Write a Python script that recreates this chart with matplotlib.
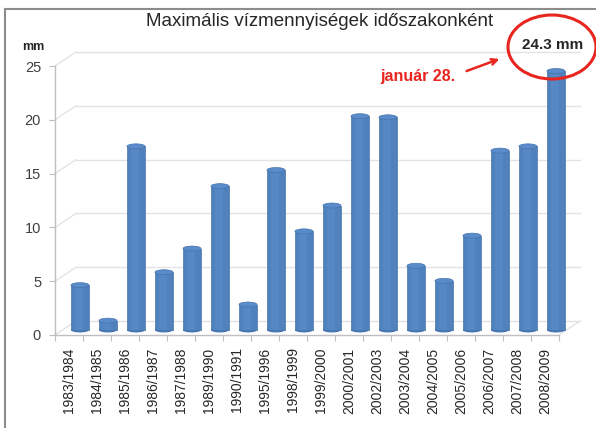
import matplotlib
matplotlib.use("Agg")
import matplotlib.pyplot as plt
from matplotlib.patches import Ellipse
from matplotlib.lines import Line2D

seasons = [
    "1983/1984", "1984/1985", "1985/1986", "1986/1987", "1987/1988",
    "1989/1990", "1990/1991", "1995/1996", "1998/1999", "1999/2000",
    "2000/2001", "2002/2003", "2003/2004", "2004/2005", "2005/2006",
    "2006/2007", "2007/2008", "2008/2009",
]
max_mm = [4.4, 1.1, 17.3, 5.6, 7.8, 13.6, 2.6, 15.1, 9.4, 11.8,
          20.1, 20.0, 6.2, 4.8, 9.0, 16.9, 17.3, 24.3]
y_ticks = [0, 5, 10, 15, 20, 25]

W, H = 596, 428
plt.rcParams["font.family"] = ["Liberation Sans", "DejaVu Sans"]


def fx(px):
    return px / W


def fy(py):
    return 1 - py / H


fig = plt.figure(figsize=(W / 100, H / 100), dpi=100)
ax = fig.add_axes([fx(55), fy(335), fx(559) - fx(55), fy(66) - fy(335)])
n = len(seasons)
ax.set_xlim(0, n)
ax.set_ylim(0, 25)

# pixel -> data scale, used for the fake 3d depth
px_x = (559 - 55) / n
px_y = (335 - 66) / 25.0
depth_x = 21 / px_x
depth_y = 14 / px_y
mid_x = 11 / px_x
mid_y = 5 / px_y

grid_c = "#e3e3e3"
axis_c = "#bfbfbf"

# back wall grid + diagonals from the value axis
for v in y_ticks:
    ax.plot([depth_x, n + depth_x], [v + depth_y, v + depth_y],
            color=grid_c, lw=1, clip_on=False, zorder=1)
    ax.plot([0, depth_x], [v, v + depth_y], color=grid_c, lw=1,
            clip_on=False, zorder=1)
ax.plot([n, n + depth_x], [0, depth_y], color=grid_c, lw=1,
        clip_on=False, zorder=1)

# cylinder columns
bar_w = 18 / px_x
ell_h = 5 / px_y
edge_c = "#4673ad"
for i, v in enumerate(max_mm):
    cx = i + 0.5 + mid_x
    top = mid_y + v - ell_h / 2
    ax.add_patch(Ellipse((cx, mid_y), bar_w, ell_h, facecolor="#4a7ab8",
                         edgecolor="none", zorder=3, clip_on=False))
    ax.bar(cx, top - mid_y, width=bar_w, bottom=mid_y, color="#4f81bd",
           edgecolor=edge_c, linewidth=0.5, zorder=3, clip_on=False)
    ax.bar(cx - bar_w * 0.05, top - mid_y, width=bar_w * 0.45, bottom=mid_y,
           color="#5688c6", linewidth=0, zorder=3.5, clip_on=False)
    ax.add_patch(Ellipse((cx, top), bar_w, ell_h, facecolor="#5a8ccc",
                         edgecolor=edge_c, lw=0.5, zorder=4, clip_on=False))

for side in ["top", "right"]:
    ax.spines[side].set_visible(False)
for side in ["left", "bottom"]:
    ax.spines[side].set_color(axis_c)
    ax.spines[side].set_linewidth(1)

ax.set_yticks(y_ticks)
ax.set_yticklabels([str(t) for t in y_ticks], fontsize=10.5, color="#404040")
ax.tick_params(axis="y", length=4, color=axis_c, pad=6)

ax.set_xticks(range(n + 1))
ax.set_xticklabels([""] * (n + 1))
ax.tick_params(axis="x", which="major", length=4, color=axis_c)
ax.set_xticks([i + 0.5 for i in range(n)], minor=True)
ax.set_xticklabels(seasons, minor=True, rotation=90, fontsize=10,
                   color="#262626")
ax.tick_params(axis="x", which="minor", length=0, pad=9)

fig.text(fx(320), fy(22), "Maximális vízmennyiségek időszakonként",
         ha="center", va="center", fontsize=13.5, color="#262626")
fig.text(fx(33), fy(47), "mm", ha="center", va="center", fontsize=9,
         fontweight="bold", color="#262626")

# annotation for the record value
red = "#e8251f"
fig.text(fx(418), fy(77), "január 28.", ha="center", va="center",
         fontsize=11.5, fontweight="bold", color=red)
ax.annotate("", xy=(fx(502), fy(58)), xytext=(fx(464), fy(72)),
            xycoords="figure fraction", textcoords="figure fraction",
            arrowprops=dict(arrowstyle="->", color=red, lw=1.8))
fig.add_artist(Ellipse((fx(552), fy(47)), fx(88), 64 / H, transform=fig.transFigure,
                       facecolor="none", edgecolor=red, lw=2.2))
fig.text(fx(553), fy(45), "24.3 mm", ha="center", va="center",
         fontsize=11, fontweight="bold", color="#262626")

# outer frame of the original chart box
fig.add_artist(Line2D([fx(5), fx(5)], [fy(9), 0], transform=fig.transFigure,
                      color="#8c8c8c", lw=1.5))
fig.add_artist(Line2D([fx(5), 1], [fy(9), fy(9)], transform=fig.transFigure,
                      color="#8c8c8c", lw=1.5))

fig.savefig("out.png", dpi=100)
